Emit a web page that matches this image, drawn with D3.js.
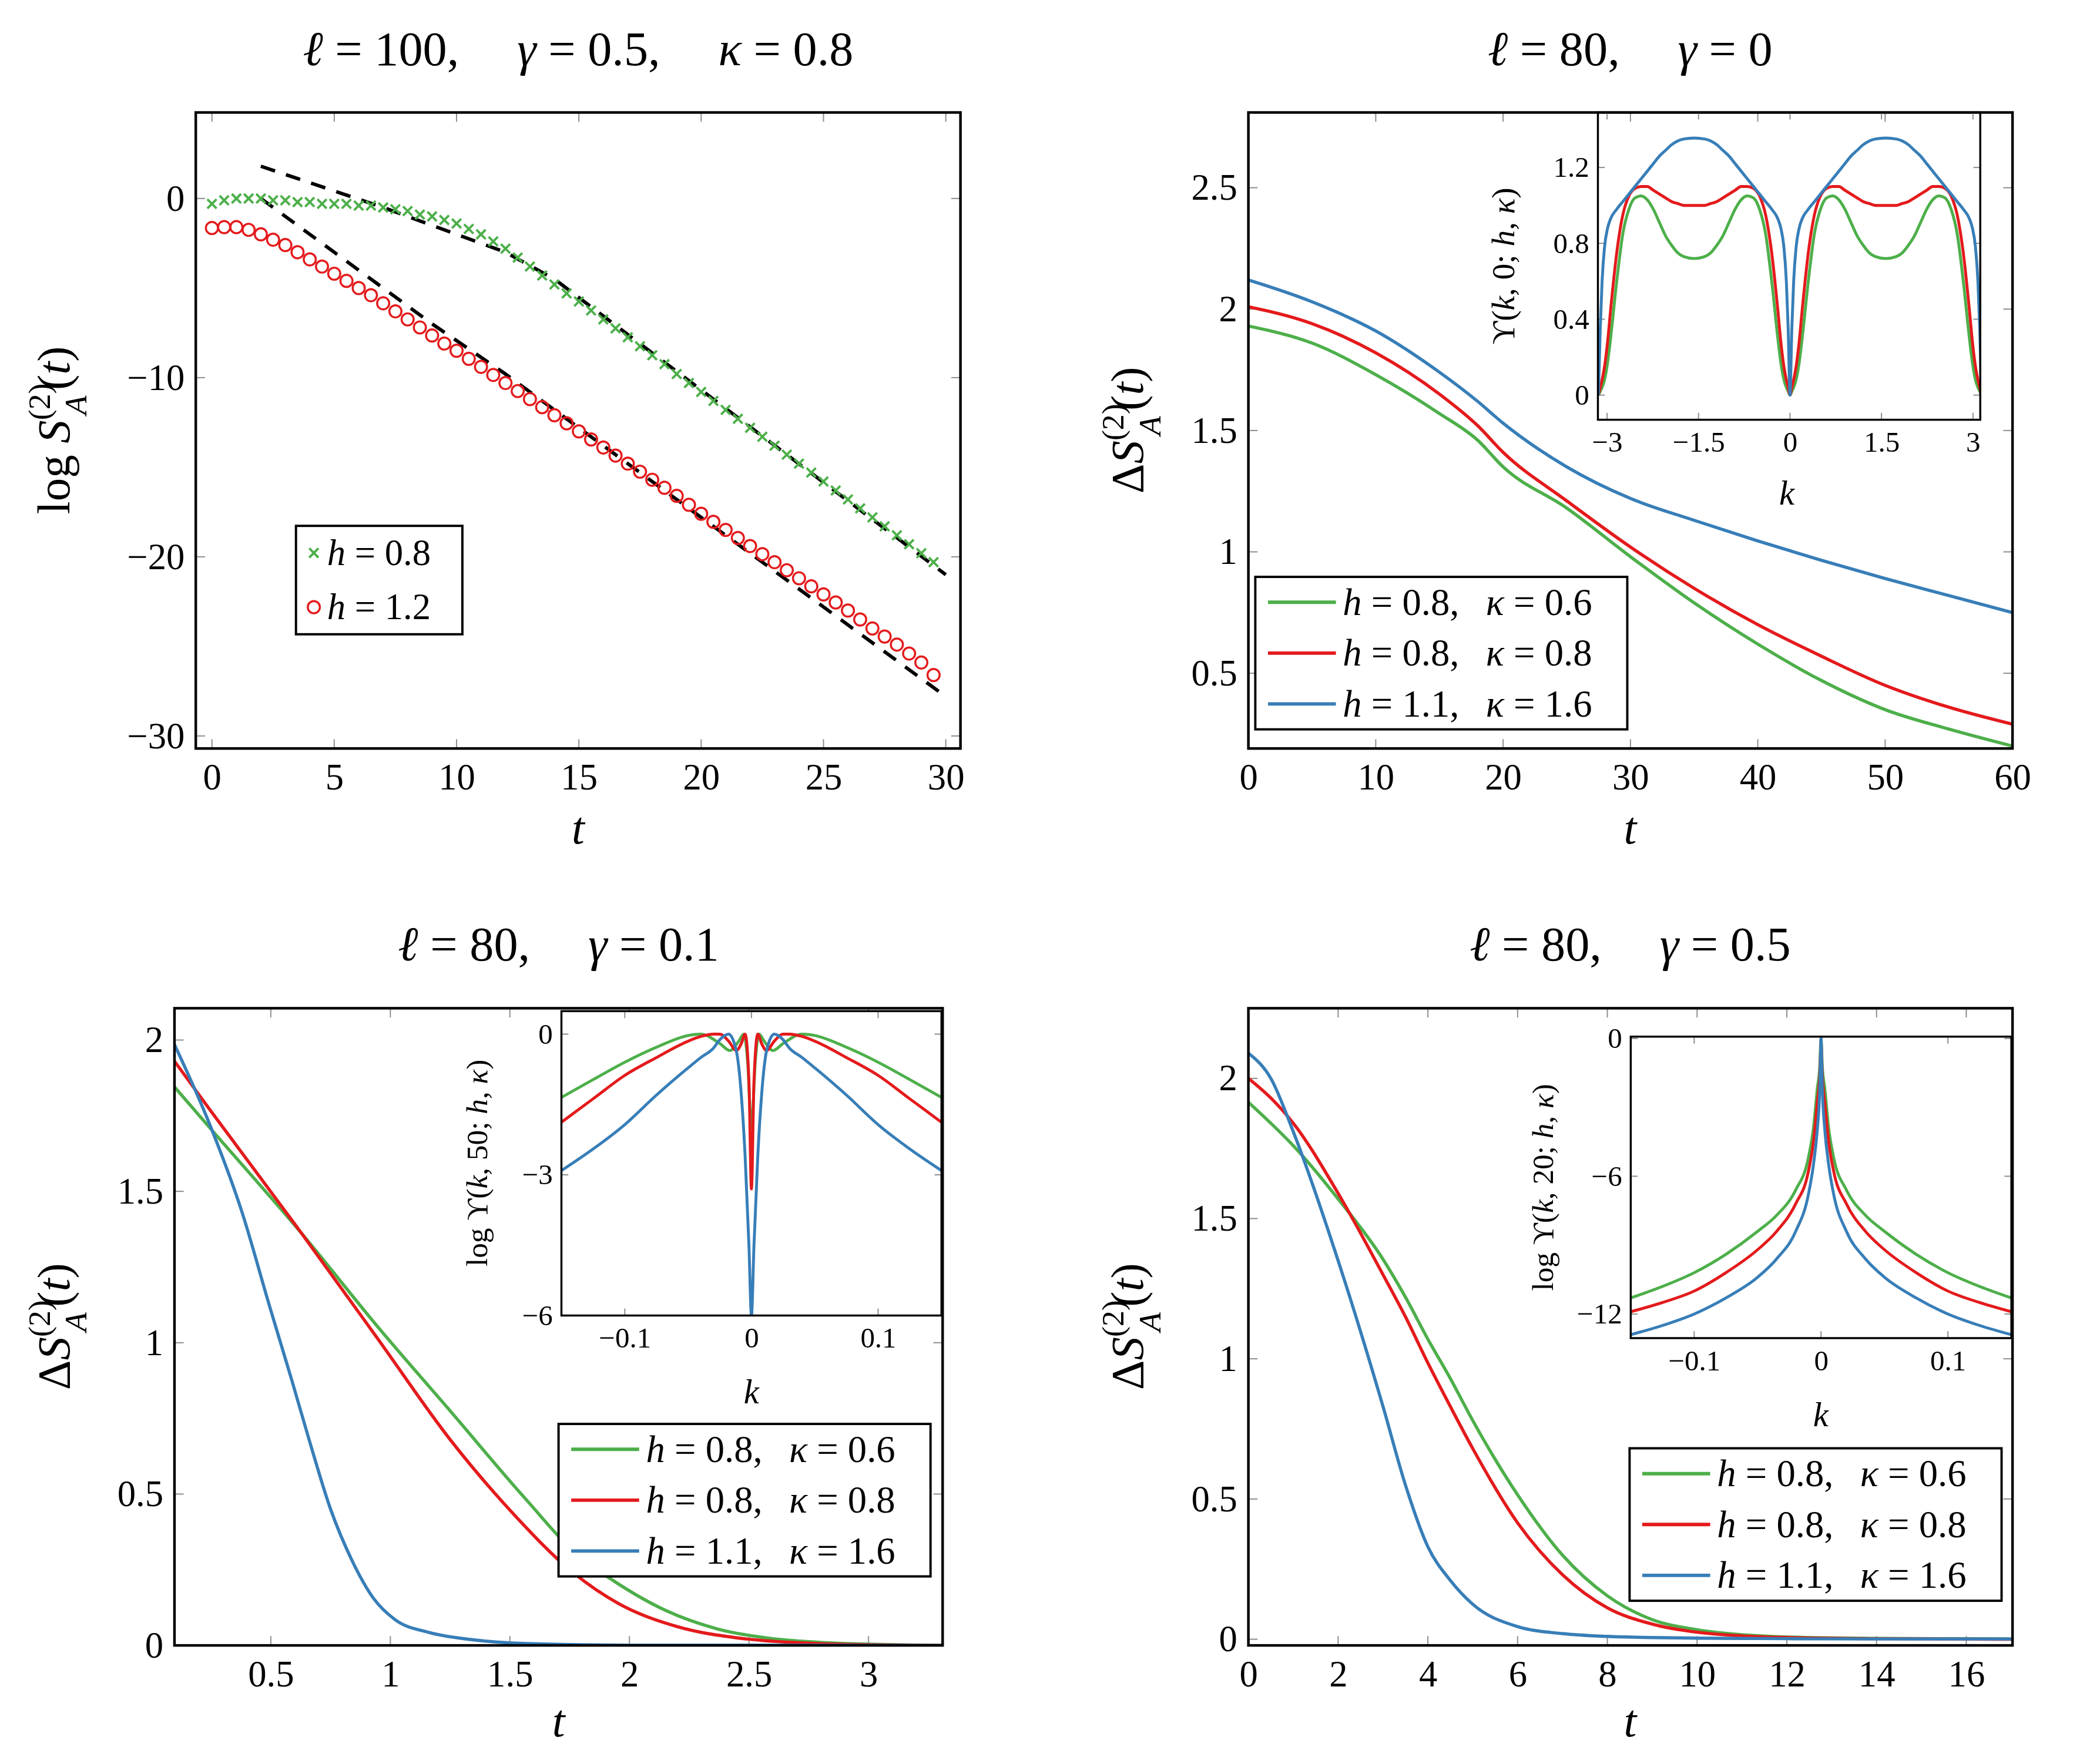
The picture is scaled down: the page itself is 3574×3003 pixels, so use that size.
<!DOCTYPE html>
<html><head><meta charset="utf-8">
<script src="https://cdn.jsdelivr.net/npm/d3@7"></script>
<style>body{margin:0;background:#fff}</style></head>
<body><svg id="c" width="3574" height="3003"><g id="root" transform="scale(0.98,0.987)"></g></svg>
<script>
// ---------- DATA ----------
const colors = {g:"#4daf4a", r:"#e41a1c", b:"#377eb8"};
// Panel 1
const p1Green_t = d3.range(0, 30, 0.5);
const p1Green = [-0.3,-0.1,0,0,0,-0.1,-0.1,-0.2,-0.2,-0.3,-0.3,-0.3,-0.4,-0.4,-0.5,-0.6,-0.7,-0.9,-1.0,-1.2,-1.4,-1.7,-2.0,-2.4,-2.8,-3.3,-3.8,-4.3,-4.8,-5.3,-5.75,-6.25,-6.75,-7.25,-7.75,-8.25,-8.75,-9.25,-9.8,-10.3,-10.8,-11.3,-11.8,-12.3,-12.8,-13.3,-13.8,-14.3,-14.8,-15.3,-15.8,-16.3,-16.8,-17.3,-17.8,-18.3,-18.8,-19.3,-19.8,-20.3];
const p1Red_t = d3.range(0, 30, 0.5);
const p1Red = [-1.65,-1.6,-1.6,-1.75,-2.0,-2.3,-2.6,-3.0,-3.4,-3.8,-4.2,-4.6,-5.0,-5.4,-5.85,-6.3,-6.75,-7.2,-7.65,-8.1,-8.5,-8.95,-9.4,-9.85,-10.3,-10.75,-11.2,-11.65,-12.1,-12.55,-13.0,-13.45,-13.9,-14.35,-14.8,-15.25,-15.7,-16.15,-16.6,-17.1,-17.6,-18.05,-18.5,-18.95,-19.4,-19.85,-20.3,-20.75,-21.2,-21.65,-22.1,-22.55,-23.0,-23.5,-24.0,-24.45,-24.9,-25.4,-25.9,-26.6];
const p1DashA_t = [2, 7, 12, 14, 30];
const p1DashA = [1.8, -0.5, -3.0, -4.5, -21.0];
const p1DashB_t = [2, 5, 9, 12, 30];
const p1DashB = [0, -3, -7, -9.8, -27.8];
// Panel 2
const p2_t = [0,5,10,15,18,20,25,30,35,40,45,50,55,60];
const p2Green = [1.93,1.86,1.73,1.57,1.46,1.35,1.18,0.98,0.79,0.62,0.47,0.35,0.27,0.20];
const p2Red   = [2.01,1.94,1.82,1.65,1.52,1.41,1.21,1.02,0.85,0.70,0.57,0.45,0.36,0.29];
const p2Blue  = [2.12,2.03,1.91,1.74,1.62,1.53,1.35,1.22,1.13,1.045,0.965,0.89,0.82,0.75];
// Inset 2 (k in [0, pi/2], symmetric about pi/2 and about 0)
const i2_k = [0,0.03,0.06,0.1,0.15,0.2,0.3,0.4,0.5,0.6,0.7,0.8,0.9,1.0,1.1,1.2,1.3,1.4,1.5708];
const i2Green = [0,0.02,0.04,0.08,0.17,0.3,0.6,0.85,0.98,1.04,1.05,1.03,0.98,0.91,0.84,0.79,0.75,0.73,0.72];
const i2Red   = [0,0.04,0.08,0.15,0.28,0.45,0.75,0.95,1.05,1.09,1.1,1.1,1.08,1.06,1.04,1.02,1.01,1.0,1.0];
const i2Blue  = [0,0.35,0.6,0.78,0.88,0.93,0.98,1.02,1.06,1.1,1.14,1.18,1.22,1.26,1.29,1.32,1.34,1.35,1.355];
// Panel 3
const p3Green_t = [0.097,0.245,0.63,0.95,1.25,1.57,1.78,1.94,2.15,2.37,2.59,2.82,3.0,3.31];
const p3Green   = [1.845,1.71,1.36,1.05,0.775,0.48,0.30,0.21,0.116,0.054,0.023,0.009,0.004,0.001];
const p3Red_t = [0.097,0.245,0.63,0.95,1.25,1.52,1.75,1.95,2.2,2.47,2.7,3.0,3.31];
const p3Red   = [1.93,1.77,1.36,1.01,0.68,0.43,0.25,0.14,0.062,0.023,0.009,0.002,0];
const p3Blue_t = [0.097,0.245,0.38,0.495,0.59,0.66,0.75,0.84,0.93,1.02,1.16,1.34,1.57,2.0,3.31];
const p3Blue   = [1.985,1.72,1.43,1.12,0.87,0.68,0.45,0.28,0.155,0.085,0.043,0.019,0.006,0.001,0];
// Inset 3 (k >= 0 half, symmetric)
const i3Green_k = [0,0.003,0.006,0.01,0.017,0.025,0.04,0.05,0.075,0.1,0.125,0.15];
const i3Green   = [-2.0,-0.6,0,-0.15,-0.35,-0.2,0,-0.03,-0.28,-0.6,-0.97,-1.35];
const i3Red_k = [0,0.002,0.005,0.008,0.012,0.018,0.025,0.03,0.04,0.05,0.075,0.1,0.125,0.15];
const i3Red   = [-3.3,-1.0,0,-0.2,-0.35,-0.15,0,0,-0.05,-0.15,-0.5,-0.88,-1.38,-1.88];
const i3Blue_k = [0,0.002,0.005,0.008,0.012,0.018,0.025,0.03,0.04,0.05,0.075,0.1,0.125,0.15];
const i3Blue   = [-6,-4.5,-2.6,-1.3,-0.35,0,-0.12,-0.3,-0.5,-0.72,-1.3,-1.93,-2.45,-2.91];
// Panel 4
const p4_t = [0,0.5,1,2,3,3.5,4,4.5,5,6,7,8,9,10,11,12,14,17];
const p4Green = [1.915,1.84,1.76,1.57,1.355,1.22,1.07,0.93,0.78,0.515,0.30,0.155,0.07,0.034,0.016,0.008,0.003,0.001];
const p4Red   = [2.0,1.93,1.84,1.59,1.30,1.15,0.985,0.83,0.68,0.415,0.23,0.112,0.054,0.025,0.012,0.006,0.002,0];
const p4Blue  = [2.09,2.0,1.81,1.35,0.83,0.55,0.33,0.21,0.125,0.045,0.02,0.01,0.006,0.004,0.003,0.002,0.001,0.001];
// Inset 4 (k >= 0 half, symmetric)
const i4_k = [0,0.001,0.003,0.006,0.01,0.02,0.035,0.05,0.075,0.1,0.125,0.15];
const i4Green = [0,-1.2,-2.2,-3.9,-5.2,-6.6,-7.7,-8.4,-9.4,-10.2,-10.8,-11.3];
const i4Red   = [-0.2,-1.6,-2.8,-4.5,-5.8,-7.2,-8.4,-9.2,-10.2,-11.0,-11.5,-11.9];
const i4Blue  = [0,-2.2,-4.0,-5.5,-6.8,-8.4,-9.6,-10.4,-11.3,-12.0,-12.5,-12.9];

const titles = ["ℓ = 100,\u2003\u2009γ = 0.5,\u2003\u2009κ = 0.8", "ℓ = 80,\u2003\u2009γ = 0", "ℓ = 80,\u2003\u2009γ = 0.1", "ℓ = 80,\u2003\u2009γ = 0.5"];
const legendLabels = [["h = 0.8,", "κ = 0.6"], ["h = 0.8,", "κ = 0.8"], ["h = 1.1,", "κ = 1.6"]];

// ---------- HELPERS ----------
const svg = d3.select("#root");
const defs = d3.select("#c").append("defs");
const FONT = "'Liberation Serif','DejaVu Serif',serif";
let clipId = 0;
const zipArr = (xs, ys) => xs.map((x, i) => [x, ys[i]]);
const mirror = (ks, vs, about) => {
  const pts = [];
  ks.forEach((k, i) => { pts.push([k, vs[i]]); pts.push([-k, vs[i]]); });
  if (about) ks.forEach((k, i) => { pts.push([about*2 - k, vs[i]]); pts.push([-(about*2 - k), vs[i]]); });
  const m = new Map(); pts.forEach(p => m.set(p[0].toFixed(5), p));
  return [...m.values()].sort((a, b) => a[0] - b[0]);
};
function mathText(g, x, y, parts, size, anchor, rotate) {
  const t = g.append("text").attr("font-family", FONT).attr("font-size", size)
    .attr("text-anchor", anchor || "middle");
  if (rotate) t.attr("transform", `translate(${x},${y}) rotate(-90)`); else t.attr("x", x).attr("y", y);
  parts.forEach(p => {
    const s = t.append("tspan").text(p.s);
    if (p.i) s.attr("font-style", "italic");
    if (p.fs) s.attr("font-size", p.fs);
    if (p.dy) s.attr("dy", p.dy);
    if (p.dx) s.attr("dx", p.dx);
  });
  return t;
}
function ml(str) {
  const out = []; let cur = null;
  for (const ch of str) {
    const it = /[a-zA-Zγκℓ]/.test(ch);
    if (cur && cur.i === it) cur.s += ch; else { cur = {s: ch, i: it}; out.push(cur); }
  }
  return out;
}
const fmt = v => (v < 0 ? "−" + Math.abs(v) : String(v));

function panel(o) {
  const g = svg.append("g");
  const x = d3.scaleLinear().domain(o.xd).range([o.x0, o.x1]);
  const y = d3.scaleLinear().domain(o.yd).range([o.y1, o.y0]);
  const id = "clip" + (clipId++);
  defs.append("clipPath").attr("id", id).append("rect")
    .attr("x", o.x0).attr("y", o.y0).attr("width", o.x1 - o.x0).attr("height", o.y1 - o.y0);
  if (o.bg) g.append("rect").attr("x", o.x0).attr("y", o.y0).attr("width", o.x1 - o.x0).attr("height", o.y1 - o.y0).attr("fill", "#fff");
  const tl = o.tl || 16, fs = o.fs || 64;
  const tk = g.append("g").attr("stroke", "#8c8c8c").attr("stroke-width", 2);
  o.xt.forEach(v => {
    tk.append("line").attr("x1", x(v)).attr("x2", x(v)).attr("y1", o.y1).attr("y2", o.y1 - tl);
    tk.append("line").attr("x1", x(v)).attr("x2", x(v)).attr("y1", o.y0).attr("y2", o.y0 + tl);
  });
  o.yt.forEach(v => {
    tk.append("line").attr("y1", y(v)).attr("y2", y(v)).attr("x1", o.x0).attr("x2", o.x0 + tl);
    tk.append("line").attr("y1", y(v)).attr("y2", y(v)).attr("x1", o.x1).attr("x2", o.x1 - tl);
  });
  const xa = d3.axisBottom(x).tickValues(o.xt).tickSize(0).tickPadding(fs * 0.4).tickFormat(o.xf || fmt);
  const gx = g.append("g").attr("transform", `translate(0,${o.y1})`).call(xa);
  const ya = d3.axisLeft(y).tickValues(o.yt).tickSize(0).tickPadding(fs * 0.3).tickFormat(o.yf || fmt);
  const gy = g.append("g").attr("transform", `translate(${o.x0},0)`).call(ya);
  [gx, gy].forEach(a => { a.select(".domain").remove(); a.selectAll("text").attr("font-family", FONT).attr("font-size", fs).attr("fill", "#000"); });
  const plot = g.append("g").attr("clip-path", `url(#${id})`);
  g.append("rect").attr("x", o.x0).attr("y", o.y0).attr("width", o.x1 - o.x0).attr("height", o.y1 - o.y0)
    .attr("fill", "none").attr("stroke", "#000").attr("stroke-width", o.bw || 4.5);
  return {g, plot, x, y};
}
function drawLine(P, pts, color, w, dash, straight) {
  const line = d3.line().x(d => P.x(d[0])).y(d => P.y(d[1]));
  if (!straight) line.curve(d3.curveMonotoneX);
  const p = P.plot.append("path").datum(pts).attr("d", line).attr("fill", "none")
    .attr("stroke", color).attr("stroke-width", w || 5.5).attr("stroke-linejoin", "round");
  if (dash) p.attr("stroke-dasharray", dash);
  return p;
}
function legend(x0, y0, w, h, entries, fs) {
  const g = svg.append("g");
  g.append("rect").attr("x", x0).attr("y", y0).attr("width", w).attr("height", h).attr("fill", "#fff").attr("stroke", "#000").attr("stroke-width", 4);
  const rowH = h / entries.length;
  entries.forEach((e, i) => {
    const cy = y0 + rowH * (i + 0.5);
    e.draw(g, cy);
    mathText(g, e.tx, cy + fs * 0.33, e.parts, fs, "start");
  });
}
function yLabel(x, y, pre, fs) {
  const parts = pre.concat([
    {s: "S", i: true},
    {s: "(2)", fs: fs * 0.68, dy: -fs * 0.42},
    {s: "A", i: true, fs: fs * 0.68, dx: -fs * 0.68, dy: fs * 0.8},
    {s: "(", dy: -fs * 0.38, dx: fs * 0.12}, {s: "t", i: true}, {s: ")"}
  ]);
  mathText(svg, x, y, parts, fs, "middle", true);
}

// ---------- PANEL 1 ----------
const P1 = panel({x0: 340, x1: 1668, y0: 194, y1: 1291, xd: [-0.66, 30.6], yd: [-30.7, 4.8],
  xt: [0,5,10,15,20,25,30], yt: [0,-10,-20,-30]});
drawLine(P1, zipArr(p1DashA_t, p1DashA), "#000", 6, "26,20", true);
drawLine(P1, zipArr(p1DashB_t, p1DashB), "#000", 6, "26,20", true);
const cross = (g, cx, cy, s) => { g.append("path").attr("d", `M${cx-s},${cy-s}L${cx+s},${cy+s}M${cx-s},${cy+s}L${cx+s},${cy-s}`).attr("stroke", colors.g).attr("stroke-width", 4); };
zipArr(p1Green_t, p1Green).forEach(d => cross(P1.plot, P1.x(d[0]), P1.y(d[1]), 8));
P1.plot.selectAll(".rc").data(zipArr(p1Red_t, p1Red)).enter().append("circle")
  .attr("cx", d => P1.x(d[0])).attr("cy", d => P1.y(d[1])).attr("r", 10.5)
  .attr("fill", "none").attr("stroke", colors.r).attr("stroke-width", 3.5);
legend(514, 907, 289, 187, [
  {draw: (g, cy) => cross(g, 545, cy, 8), tx: 568, parts: ml("h = 0.8")},
  {draw: (g, cy) => g.append("circle").attr("cx", 545).attr("cy", cy).attr("r", 10.5).attr("fill", "none").attr("stroke", colors.r).attr("stroke-width", 3.5), tx: 568, parts: ml("h = 1.2")}
], 64);

// ---------- PANEL 2 ----------
const DX = 12;
const P2 = panel({x0: 2168, x1: 3495, y0: 194, y1: 1291, xd: [0, 60], yd: [0.19, 2.81],
  xt: [0,10,20,30,40,50,60], yt: [0.5,1,1.5,2,2.5]});
drawLine(P2, zipArr(p2_t, p2Green), colors.g);
drawLine(P2, zipArr(p2_t, p2Red), colors.r);
drawLine(P2, zipArr(p2_t, p2Blue), colors.b);
const I2 = panel({x0: 2759 + DX + 4, x1: 3419 + DX + 8, y0: 194, y1: 724, xd: [-3.15, 3.12], yd: [-0.13, 1.49],
  xt: [-3,-1.5,0,1.5,3], yt: [0,0.4,0.8,1.2], fs: 50, tl: 12, bw: 3.5});
drawLine(I2, mirror(i2_k, i2Green, Math.PI/2), colors.g, 5);
drawLine(I2, mirror(i2_k, i2Red, Math.PI/2), colors.r, 5);
drawLine(I2, mirror(i2_k, i2Blue, Math.PI/2), colors.b, 5);

// ---------- PANEL 3 ----------
const P3 = panel({x0: 303, x1: 1637, y0: 1739, y1: 2838, xd: [0.097, 3.31], yd: [0, 2.105],
  xt: [0.5,1,1.5,2,2.5,3], yt: [0,0.5,1,1.5,2]});
drawLine(P3, zipArr(p3Green_t, p3Green), colors.g);
drawLine(P3, zipArr(p3Red_t, p3Red), colors.r);
drawLine(P3, zipArr(p3Blue_t, p3Blue), colors.b);
const I3 = panel({x0: 975, x1: 1635, y0: 1744, y1: 2269, xd: [-0.15, 0.15], yd: [-6, 0.49],
  xt: [-0.1,0,0.1], yt: [0,-3,-6], fs: 50, tl: 12, bw: 3.5, bg: true});
drawLine(I3, mirror(i3Green_k, i3Green), colors.g, 5);
drawLine(I3, mirror(i3Red_k, i3Red), colors.r, 5);
drawLine(I3, mirror(i3Blue_k, i3Blue), colors.b, 5);

// ---------- PANEL 4 ----------
const P4 = panel({x0: 2168, x1: 3495, y0: 1739, y1: 2838, xd: [0, 17.03], yd: [-0.022, 2.25],
  xt: [0,2,4,6,8,10,12,14,16], yt: [0,0.5,1,1.5,2]});
drawLine(P4, zipArr(p4_t, p4Green), colors.g);
drawLine(P4, zipArr(p4_t, p4Red), colors.r);
drawLine(P4, zipArr(p4_t, p4Blue), colors.b);
const I4 = panel({x0: 2832, x1: 3493, y0: 1788, y1: 2308, xd: [-0.15, 0.15], yd: [-13.05, 0.08],
  xt: [-0.1,0,0.1], yt: [0,-6,-12], fs: 50, tl: 12, bw: 3.5, bg: true});
drawLine(I4, mirror(i4_k, i4Green), colors.g, 5);
drawLine(I4, mirror(i4_k, i4Red), colors.r, 5);
drawLine(I4, mirror(i4_k, i4Blue), colors.b, 5);

// ---------- LEGENDS (3-curve) ----------
function legend3(x0, y0) {
  const cols = [colors.g, colors.r, colors.b];
  legend(x0, y0, 646, 263, legendLabels.map((lab, i) => ({
    draw: (g, cy) => g.append("line").attr("x1", x0 + 22).attr("x2", x0 + 140).attr("y1", cy).attr("y2", cy).attr("stroke", cols[i]).attr("stroke-width", 6),
    tx: x0 + 152, parts: ml(lab[0]).concat([{s: "\u2002\u2009"}], ml(lab[1]))
  })), 66);
}
legend3(2180, 995);
legend3(970, 2456);
legend3(2830, 2498);

// ---------- TITLES & AXIS LABELS ----------
mathText(svg, 1004, 112, ml(titles[0]), 84);
mathText(svg, 2831, 112, ml(titles[1]), 84);
mathText(svg, 970, 1657, ml(titles[2]), 84);
mathText(svg, 2831, 1657, ml(titles[3]), 84);
[[1004, 1455], [2831, 1455], [970, 2995], [2831, 2995]].forEach(p => mathText(svg, p[0], p[1], [{s: "t", i: true}], 80));
yLabel(120, 742, [{s: "log "}], 80);
yLabel(1985, 742, [{s: "Δ"}], 80);
yLabel(120, 2288, [{s: "Δ"}], 80);
yLabel(1985, 2288, [{s: "Δ"}], 80);
mathText(svg, 3103, 870, [{s: "k", i: true}], 60);
mathText(svg, 1305, 2420, [{s: "k", i: true}], 60);
mathText(svg, 3162, 2460, [{s: "k", i: true}], 60);
mathText(svg, 2630, 459, [{s: "ϒ("}, {s: "k", i: true}, {s: ", 0; "}, {s: "h", i: true}, {s: ", "}, {s: "κ", i: true}, {s: ")"}], 56, "middle", true);
mathText(svg, 846, 2006, [{s: "log ϒ("}, {s: "k", i: true}, {s: ", 50; "}, {s: "h", i: true}, {s: ", "}, {s: "κ", i: true}, {s: ")"}], 52, "middle", true);
mathText(svg, 2697, 2048, [{s: "log ϒ("}, {s: "k", i: true}, {s: ", 20; "}, {s: "h", i: true}, {s: ", "}, {s: "κ", i: true}, {s: ")"}], 52, "middle", true);
</script></body></html>
